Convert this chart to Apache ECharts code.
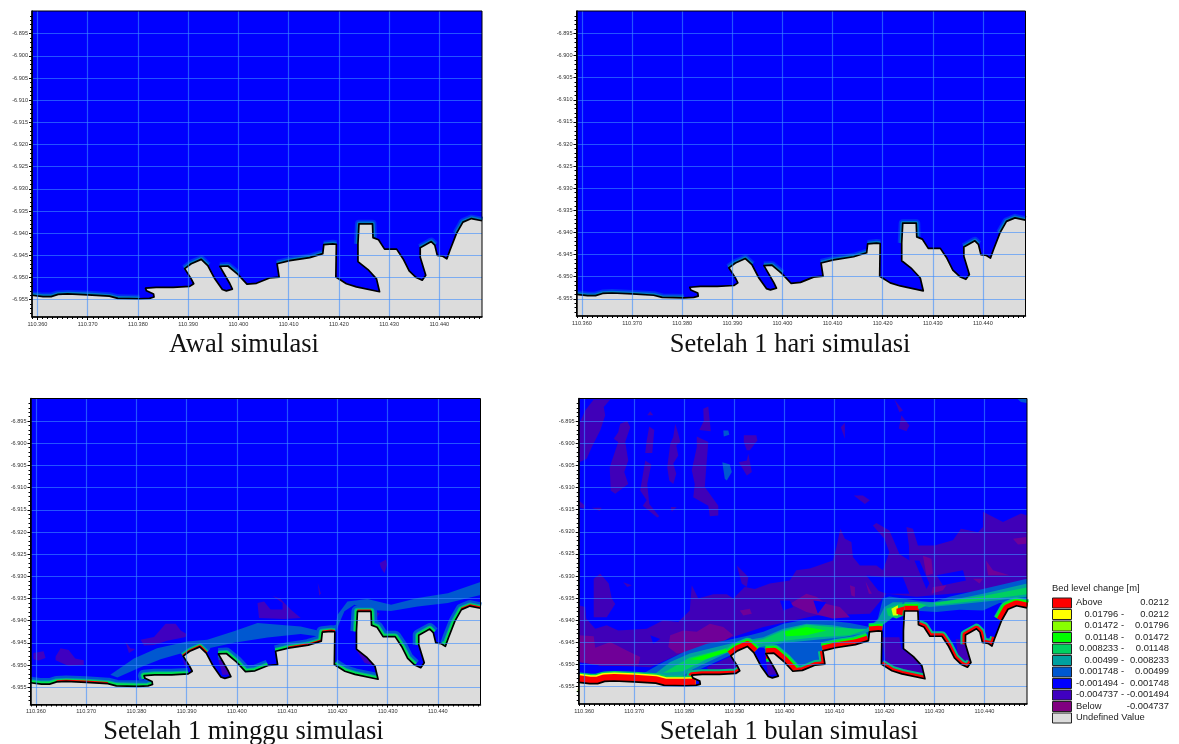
<!DOCTYPE html>
<html><head><meta charset="utf-8">
<style>html,body{margin:0;padding:0;background:#fff}#c{width:1179px;height:744px;filter:blur(0.4px)}</style>
<script src="https://cdn.jsdelivr.net/npm/echarts@6/dist/echarts.min.js"></script>
</head><body><div id="c"></div>
<script>
const lonMin=110.3589, lonMax=110.4485, latMin=-6.9589, latMax=-6.8899;
const lonTicks=[110.36,110.37,110.38,110.39,110.40,110.41,110.42,110.43,110.44];
const latTicks=[-6.955,-6.95,-6.945,-6.94,-6.935,-6.93,-6.925,-6.92,-6.915,-6.91,-6.905,-6.9,-6.895];
const panelTitles=['Awal simulasi','Setelah 1 hari simulasi','Setelah 1 minggu simulasi','Setelah 1 bulan simulasi'];
const legendTitle='Bed level change [m]';
const legendLow=['Above','0.01796 -','0.01472 -','0.01148 -','0.008233 -','0.00499 -','0.001748 -','-0.001494 -','-0.004737 -','Below','Undefined Value'];
const legendHigh=['0.0212','0.0212','0.01796','0.01472','0.01148','0.008233','0.00499','0.001748','-0.001494','-0.004737',''];
const legendColors=['#ff0000','#ffff00','#88ff00','#00ff00','#00d060','#00a0a0','#0058d0','#0000ff','#4000c0','#800080','#dcdcdc'];

const coastline=[[110.3589,-6.9540],[110.3611,-6.9543],[110.3627,-6.9543],[110.3641,-6.9538],[110.3660,-6.9537],[110.3700,-6.9539],[110.3743,-6.9542],[110.3760,-6.9547],[110.3803,-6.9548],[110.3823,-6.9547],[110.3832,-6.9544],[110.3831,-6.9537],[110.3817,-6.9530],[110.3815,-6.9524],[110.3836,-6.9522],[110.3870,-6.9522],[110.3903,-6.9520],[110.3911,-6.9514],[110.3906,-6.9503],[110.3893,-6.9480],[110.3906,-6.9469],[110.3926,-6.9459],[110.3939,-6.9473],[110.3953,-6.9503],[110.3968,-6.9527],[110.3976,-6.9530],[110.3988,-6.9526],[110.3983,-6.9514],[110.3963,-6.9475],[110.3979,-6.9474],[110.3999,-6.9493],[110.4017,-6.9515],[110.4036,-6.9513],[110.4062,-6.9501],[110.4081,-6.9499],[110.4077,-6.9469],[110.4102,-6.9462],[110.4142,-6.9455],[110.4168,-6.9446],[110.4170,-6.9426],[110.4188,-6.9424],[110.4195,-6.9425],[110.4194,-6.9499],[110.4215,-6.9514],[110.4235,-6.9521],[110.4281,-6.9532],[110.4275,-6.9503],[110.4258,-6.9482],[110.4238,-6.9464],[110.4238,-6.9424],[110.4240,-6.9379],[110.4267,-6.9379],[110.4268,-6.9410],[110.4279,-6.9415],[110.4291,-6.9436],[110.4315,-6.9436],[110.4328,-6.9458],[110.4340,-6.9485],[110.4354,-6.9500],[110.4366,-6.9506],[110.4373,-6.9495],[110.4362,-6.9454],[110.4362,-6.9433],[110.4384,-6.9419],[110.4391,-6.9427],[110.4396,-6.9450],[110.4407,-6.9452],[110.4415,-6.9458],[110.4421,-6.9439],[110.4434,-6.9401],[110.4447,-6.9375],[110.4464,-6.9367],[110.4485,-6.9372]];
const seaBox=[[[lonMin,latMin],[lonMax,latMin],[lonMax,latMax],[lonMin,latMax]]];
const landCorners=[[lonMax,latMin],[lonMin,latMin]];

/* one week */
const weekBand=[[[110.3748,-6.9522],[110.3795,-6.9485],[110.3841,-6.9462],[110.3901,-6.9447],[110.3941,-6.9443],[110.3994,-6.9424],[110.4041,-6.9405],[110.4127,-6.9413],[110.4167,-6.9424],[110.4197,-6.9409],[110.4200,-6.9387],[110.4220,-6.9357],[110.4260,-6.9351],[110.4307,-6.9364],[110.4360,-6.9349],[110.4420,-6.9338],[110.4485,-6.9313],[110.4485,-6.9342],[110.4420,-6.9360],[110.4360,-6.9368],[110.4307,-6.9378],[110.4264,-6.9376],[110.4234,-6.9364],[110.4214,-6.9379],[110.4204,-6.9405],[110.4197,-6.9426],[110.4167,-6.9436],[110.4127,-6.9430],[110.4061,-6.9438],[110.3994,-6.9450],[110.3928,-6.9466],[110.3888,-6.9474],[110.3848,-6.9487],[110.3808,-6.9505],[110.3762,-6.9528]]];
const weekIndigo=[
[[110.3808,-6.9443],[110.3835,-6.9437],[110.3858,-6.9407],[110.3878,-6.9407],[110.3888,-6.9422],[110.3900,-6.9430],[110.3898,-6.9437],[110.3861,-6.9445],[110.3835,-6.9455],[110.3815,-6.9456]],
[[110.3639,-6.9481],[110.3649,-6.9462],[110.3665,-6.9466],[110.3678,-6.9485],[110.3695,-6.9489],[110.3695,-6.9500],[110.3665,-6.9502],[110.3639,-6.9489]],
[[110.3595,-6.9473],[110.3615,-6.9469],[110.3619,-6.9484],[110.3605,-6.9490],[110.3595,-6.9487]],
[[110.4041,-6.9360],[110.4054,-6.9357],[110.4067,-6.9375],[110.4091,-6.9375],[110.4091,-6.9360],[110.4071,-6.9344],[110.4087,-6.9351],[110.4107,-6.9375],[110.4127,-6.9394],[110.4094,-6.9396],[110.4044,-6.9394]],
[[110.3778,-6.9447],[110.3788,-6.9462],[110.3798,-6.9464],[110.3785,-6.9473]],
[[110.4161,-6.9315],[110.4167,-6.9338],[110.4164,-6.9344]],
[[110.4284,-6.9270],[110.4297,-6.9262],[110.4299,-6.9274],[110.4294,-6.9293],[110.4287,-6.9281]],
[[110.4272,-6.9379],[110.4284,-6.9383],[110.4277,-6.9395]],
[[110.3961,-6.9480],[110.3978,-6.9503],[110.3988,-6.9522],[110.3971,-6.9522]],
[[110.4237,-6.9465],[110.4257,-6.9473],[110.4274,-6.9488],[110.4277,-6.9503],[110.4254,-6.9495]],
[[110.3891,-6.9484],[110.3901,-6.9500],[110.3898,-6.9506]]
];

/* one month */
const monthIndigo=[
[[110.3589,-6.9366],[110.3602,-6.9370],[110.3604,-6.9396],[110.3622,-6.9419],[110.3645,-6.9411],[110.3668,-6.9423],[110.3725,-6.9419],[110.3758,-6.9400],[110.3788,-6.9404],[110.3811,-6.9378],[110.3815,-6.9321],[110.3828,-6.9351],[110.3858,-6.9341],[110.3885,-6.9341],[110.3898,-6.9351],[110.3921,-6.9325],[110.3941,-6.9329],[110.3971,-6.9317],[110.4011,-6.9310],[110.4024,-6.9287],[110.4051,-6.9283],[110.4097,-6.9265],[110.4104,-6.9235],[110.4112,-6.9193],[110.4121,-6.9216],[110.4134,-6.9223],[110.4137,-6.9257],[110.4151,-6.9276],[110.4184,-6.9276],[110.4197,-6.9287],[110.4210,-6.9246],[110.4200,-6.9216],[110.4177,-6.9186],[110.4184,-6.9180],[110.4210,-6.9197],[110.4230,-6.9250],[110.4250,-6.9265],[110.4249,-6.9231],[110.4244,-6.9189],[110.4257,-6.9193],[110.4267,-6.9231],[110.4300,-6.9231],[110.4337,-6.9219],[110.4353,-6.9193],[110.4387,-6.9201],[110.4397,-6.9189],[110.4397,-6.9155],[110.4437,-6.9178],[110.4473,-6.9159],[110.4485,-6.9163],[110.4485,-6.9325],[110.4264,-6.9347],[110.4204,-6.9340],[110.4171,-6.9385],[110.4064,-6.9389],[110.3958,-6.9415],[110.3885,-6.9442],[110.3798,-6.9472],[110.3732,-6.9506],[110.3692,-6.9504],[110.3632,-6.9502],[110.3589,-6.9494]],
[[110.3905,-6.9276],[110.3928,-6.9302],[110.3925,-6.9325],[110.3915,-6.9317]],
[[110.3619,-6.9306],[110.3632,-6.9295],[110.3649,-6.9317],[110.3655,-6.9351],[110.3662,-6.9363],[110.3645,-6.9393],[110.3619,-6.9393],[110.3619,-6.9347]],
[[110.3678,-6.9314],[110.3695,-6.9321],[110.3686,-6.9325]],
[[110.3589,-6.8979],[110.3590,-6.9043],[110.3605,-6.9035],[110.3615,-6.9009],[110.3632,-6.8971],[110.3642,-6.8937],[110.3639,-6.8918],[110.3652,-6.8901],[110.3619,-6.8901],[110.3602,-6.8926],[110.3590,-6.8956]],
[[110.3668,-6.8975],[110.3659,-6.8990],[110.3668,-6.8997],[110.3651,-6.9054],[110.3653,-6.9107],[110.3662,-6.9114],[110.3688,-6.9092],[110.3680,-6.9065],[110.3688,-6.9039],[110.3682,-6.8997],[110.3692,-6.8964],[110.3686,-6.8950],[110.3672,-6.8956]],
[[110.3730,-6.8962],[110.3740,-6.8970],[110.3736,-6.9022],[110.3722,-6.9022],[110.3725,-6.8994]],
[[110.3722,-6.9039],[110.3734,-6.9048],[110.3726,-6.9092],[110.3730,-6.9137],[110.3750,-6.9165],[110.3746,-6.9168],[110.3717,-6.9141],[110.3725,-6.9129],[110.3712,-6.9107]],
[[110.3782,-6.8956],[110.3788,-6.8979],[110.3792,-6.8997],[110.3784,-6.9005],[110.3788,-6.9028],[110.3778,-6.9046],[110.3784,-6.9069],[110.3778,-6.9092],[110.3770,-6.9084],[110.3766,-6.9054],[110.3772,-6.9001],[110.3778,-6.8986]],
[[110.3838,-6.8922],[110.3848,-6.8917],[110.3853,-6.8973],[110.3830,-6.8970],[110.3839,-6.8950]],
[[110.3825,-6.8985],[110.3848,-6.8997],[110.3845,-6.9039],[110.3841,-6.9099],[110.3868,-6.9141],[110.3868,-6.9163],[110.3851,-6.9165],[110.3848,-6.9141],[110.3818,-6.9122],[110.3821,-6.9092],[110.3815,-6.9061],[110.3825,-6.9009]],
[[110.3919,-6.8982],[110.3944,-6.8982],[110.3946,-6.8994],[110.3931,-6.9016],[110.3925,-6.9016],[110.3919,-6.8997]],
[[110.3928,-6.9024],[110.3935,-6.9065],[110.3925,-6.9073],[110.3909,-6.9043],[110.3925,-6.9039]],
[[110.3726,-6.8937],[110.3732,-6.8928],[110.3738,-6.8937]],
[[110.4220,-6.8901],[110.4237,-6.8926],[110.4230,-6.8930]],
[[110.4234,-6.8937],[110.4250,-6.8960],[110.4244,-6.8973],[110.4229,-6.8967]],
[[110.4113,-6.8964],[110.4121,-6.8954],[110.4121,-6.8990]],
[[110.4139,-6.9118],[110.4157,-6.9118],[110.4171,-6.9129],[110.4161,-6.9137]],
[[110.3589,-6.9129],[110.3602,-6.9141],[110.3599,-6.9148],[110.3589,-6.9144]],
[[110.3615,-6.9146],[110.3635,-6.9146],[110.3631,-6.9153]],
[[110.3773,-6.9144],[110.3785,-6.9144],[110.3775,-6.9155]]
];
const monthDeep=[
[[110.3589,-6.9434],[110.3619,-6.9436],[110.3622,-6.9462],[110.3652,-6.9449],[110.3685,-6.9468],[110.3712,-6.9483],[110.3708,-6.9502],[110.3632,-6.9502],[110.3589,-6.9494]],
[[110.3772,-6.9434],[110.3798,-6.9423],[110.3825,-6.9426],[110.3851,-6.9408],[110.3878,-6.9415],[110.3898,-6.9434],[110.3865,-6.9457],[110.3818,-6.9472],[110.3785,-6.9475],[110.3768,-6.9460]],
[[110.4011,-6.9363],[110.4044,-6.9340],[110.4064,-6.9347],[110.4084,-6.9363],[110.4111,-6.9370],[110.4131,-6.9393],[110.4097,-6.9396],[110.4044,-6.9381]],
[[110.4131,-6.9321],[110.4141,-6.9325],[110.4141,-6.9347],[110.4134,-6.9344]],
[[110.3911,-6.9378],[110.3931,-6.9374],[110.3935,-6.9385],[110.3918,-6.9389]],
[[110.4277,-6.9254],[110.4294,-6.9261],[110.4297,-6.9295],[110.4284,-6.9299]],
[[110.4403,-6.9265],[110.4417,-6.9287],[110.4450,-6.9298],[110.4407,-6.9298]],
[[110.4457,-6.9216],[110.4483,-6.9212],[110.4483,-6.9227],[110.4467,-6.9229]],
[[110.4297,-6.9325],[110.4324,-6.9321],[110.4317,-6.9332],[110.4294,-6.9340]],
[[110.4377,-6.9306],[110.4397,-6.9306],[110.4390,-6.9317]],
[[110.4162,-6.9312],[110.4169,-6.9340],[110.4175,-6.9340]]
];
const monthSeaHoles=[
[[110.4164,-6.9299],[110.4197,-6.9303],[110.4237,-6.9303],[110.4250,-6.9340],[110.4204,-6.9340],[110.4188,-6.9333]],
[[110.4260,-6.9265],[110.4270,-6.9265],[110.4290,-6.9317],[110.4284,-6.9329],[110.4274,-6.9302]],
[[110.3991,-6.9355],[110.4011,-6.9355],[110.4018,-6.9370],[110.3998,-6.9378]],
[[110.4058,-6.9355],[110.4084,-6.9359],[110.4067,-6.9385]],
[[110.3732,-6.9434],[110.3752,-6.9442],[110.3738,-6.9453]],
[[110.4304,-6.9298],[110.4357,-6.9287],[110.4363,-6.9310],[110.4317,-6.9321]]
];
const monthSpots=[
[[110.3878,-6.8971],[110.3888,-6.8971],[110.3890,-6.8981],[110.3879,-6.8985]],
[[110.3876,-6.9043],[110.3891,-6.9048],[110.3895,-6.9065],[110.3885,-6.9084],[110.3881,-6.9080]],
[[110.4466,-6.8900],[110.4485,-6.8900],[110.4485,-6.8909],[110.4473,-6.8907]]
];
const monthBand=[[[110.3712,-6.9524],[110.3752,-6.9498],[110.3798,-6.9472],[110.3845,-6.9453],[110.3885,-6.9445],[110.3931,-6.9434],[110.3958,-6.9426],[110.3998,-6.9408],[110.4038,-6.9399],[110.4084,-6.9400],[110.4131,-6.9406],[110.4171,-6.9415],[110.4187,-6.9396],[110.4197,-6.9351],[110.4210,-6.9346],[110.4264,-6.9355],[110.4297,-6.9359],[110.4330,-6.9347],[110.4397,-6.9329],[110.4485,-6.9306],[110.4485,-6.9359],[110.4430,-6.9361],[110.4397,-6.9378],[110.4350,-6.9376],[110.4304,-6.9381],[110.4257,-6.9378],[110.4237,-6.9366],[110.4204,-6.9400],[110.4171,-6.9438],[110.4077,-6.9468],[110.4077,-6.9498],[110.4018,-6.9513],[110.3958,-6.9462],[110.3925,-6.9462],[110.3885,-6.9483],[110.3811,-6.9521],[110.3825,-6.9540],[110.3758,-6.9547],[110.3732,-6.9540]]];
const monthTeal=[[[110.3738,-6.9524],[110.3772,-6.9494],[110.3811,-6.9475],[110.3858,-6.9462],[110.3905,-6.9449],[110.3958,-6.9438],[110.3998,-6.9419],[110.4044,-6.9408],[110.4097,-6.9411],[110.4137,-6.9419],[110.4164,-6.9419],[110.4187,-6.9400],[110.4200,-6.9370],[110.4217,-6.9359],[110.4257,-6.9359],[110.4297,-6.9359],[110.4330,-6.9355],[110.4397,-6.9340],[110.4485,-6.9317],[110.4485,-6.9347],[110.4423,-6.9355],[110.4330,-6.9366],[110.4290,-6.9370],[110.4264,-6.9366],[110.4237,-6.9359],[110.4217,-6.9393],[110.4187,-6.9419],[110.4157,-6.9430],[110.4117,-6.9438],[110.4064,-6.9444],[110.3998,-6.9451],[110.3958,-6.9459],[110.3885,-6.9474],[110.3818,-6.9510],[110.3798,-6.9525],[110.3758,-6.9540]]];
const monthGreen=[
[[110.3758,-6.9519],[110.3811,-6.9484],[110.3865,-6.9469],[110.3905,-6.9456],[110.3958,-6.9442],[110.3998,-6.9423],[110.4044,-6.9410],[110.4104,-6.9416],[110.4164,-6.9421],[110.4131,-6.9434],[110.4064,-6.9438],[110.3998,-6.9446],[110.3944,-6.9454],[110.3891,-6.9468],[110.3845,-6.9488],[110.3798,-6.9515]],
[[110.4297,-6.9361],[110.4397,-6.9345],[110.4485,-6.9326],[110.4485,-6.9341],[110.4397,-6.9354],[110.4304,-6.9366]],
[[110.4204,-6.9374],[110.4230,-6.9363],[110.4264,-6.9359],[110.4284,-6.9366],[110.4264,-6.9378],[110.4224,-6.9396],[110.4207,-6.9389]]
];
const monthBright=[
[[110.3811,-6.9488],[110.3885,-6.9464],[110.3905,-6.9460],[110.3885,-6.9472],[110.3835,-6.9490]],
[[110.3998,-6.9426],[110.4044,-6.9415],[110.4084,-6.9423],[110.4044,-6.9434],[110.4004,-6.9436]]
];
const monthYellow=[[[110.4214,-6.9374],[110.4227,-6.9366],[110.4227,-6.9389],[110.4217,-6.9389]]];
const monthRed=[[[110.4224,-6.9374],[110.4247,-6.9366],[110.4264,-6.9366],[110.4270,-6.9378],[110.4237,-6.9378],[110.4236,-6.9389],[110.4224,-6.9385]]];
const monthBays=[
[[110.4194,-6.9438],[110.4230,-6.9438],[110.4234,-6.9464],[110.4267,-6.9490],[110.4280,-6.9528],[110.4204,-6.9502]],
[[110.3961,-6.9479],[110.3974,-6.9479],[110.3988,-6.9521],[110.3968,-6.9524]],
[[110.4343,-6.9442],[110.4363,-6.9445],[110.4371,-6.9498],[110.4347,-6.9483]],
[[110.3891,-6.9483],[110.3911,-6.9509],[110.3851,-6.9517],[110.3845,-6.9506]]
];

/* stretches of the shore (first and last index into coastline) */
const calmRuns=[[0,8],[19,22],[28,30],[35,38],[39,41],[49,52],[62,64],[69,72]];
const weekRuns=[[0,10],[12,16],[19,22],[28,33],[35,41],[42,45],[49,58],[61,64],[66,72]];
const weekHotRuns=[[3,6],[19,22],[36,38],[39,41],[50,51],[70,72]];
const monthThickRuns=[[0,9]];
const monthMidRuns=[[19,22],[28,31],[35,38],[39,41],[50,51],[69,72]];
const monthThinRuns=[[12,17],[31,35],[42,45],[52,60],[61,65],[65,68]];

const gridBoxes=[[32,11,450,306],[576.5,11,449,305],[30.5,398.5,450,306],[578.7,398.5,448.3,305.5]];
const titleSpots=[[244,331.5],[790,331.5],[243.5,719],[789,719]];

function polygons(list,color){return {kind:'poly',list,color};}
function strokes(runs,width,color){return {kind:'line',runs,width,color};}
const panelLayers=[
 [strokes(calmRuns,8,'#0030f0'),strokes(calmRuns,4.5,'#0078c0')],
 [strokes(calmRuns,8,'#0030f0'),strokes(calmRuns,4.5,'#0078c0')],
 [polygons(weekIndigo,'#4000c0'),polygons(weekBand,'#0058d0'),
  strokes(weekRuns,12,'#0058d0'),strokes(weekRuns,7,'#00a0a0'),strokes(weekRuns,5,'#00e050'),strokes(weekHotRuns,3.5,'#ff0000')],
 [polygons(monthIndigo,'#4000b8'),polygons(monthDeep,'#700098'),polygons(monthSeaHoles,'#0000ff'),polygons(monthSpots,'#0058d0'),
  polygons(monthBand,'#0058d0'),polygons(monthTeal,'#00a0a0'),polygons(monthGreen,'#00d060'),polygons(monthBright,'#00ff00'),polygons(monthBays,'#4000b8'),polygons(monthYellow,'#e0ff00'),polygons(monthRed,'#ff0000'),
  strokes(monthThinRuns,10,'#00c080'),strokes(monthThinRuns,6,'#ff0000'),
  strokes(monthMidRuns,17,'#00c080'),strokes(monthMidRuns,14,'#00ff00'),strokes(monthMidRuns,10.5,'#ff0000'),
  strokes(monthThickRuns,20,'#00d060'),strokes(monthThickRuns,17,'#ffff00'),strokes(monthThickRuns,14,'#ff0000')]
];

const lonMinor=[],latMinor=[];
for(let i=3589;i<=4485;i++){ if((i%10)===0 && i%100!==0) lonMinor.push(110+i/10000); }
for(let i=-6958;i<=-6890;i++){ if(i%5!==0) latMinor.push(i/1000); }

const grid=[],xAxis=[],yAxis=[],series=[],title=[];
let zc=1;
function polySeries(p,layer){
  return {type:'custom',coordinateSystem:'cartesian2d',xAxisIndex:p*2,yAxisIndex:p*2,clip:true,silent:true,z:zc++,
    data:layer.list.map((_,i)=>[i]),
    renderItem(params,api){
      return {type:'polygon',shape:{points:layer.list[params.dataIndex].map(q=>api.coord(q))},style:{fill:layer.color}};
    }};
}
function lineSeries(p,data,width,color){
  return {type:'line',xAxisIndex:p*2,yAxisIndex:p*2,data,clip:true,silent:true,z:zc++,showSymbol:false,symbol:'none',
    lineStyle:{width,color,join:'round',cap:'butt'}};
}
gridBoxes.forEach((b,p)=>{
  grid.push({left:b[0],top:b[1],width:b[2],height:b[3],show:true,borderColor:'#000',borderWidth:1,backgroundColor:'transparent',z:1001});
  const lab={show:true,fontSize:5.6,color:'#333',fontFamily:'"Liberation Sans"'};
  const gridLine={show:true,lineStyle:{color:'rgba(60,140,255,0.6)',width:1.2}};
  xAxis.push({type:'value',gridIndex:p,min:lonMin,max:lonMax,position:'bottom',z:1000,
    axisLine:{show:true,onZero:false,lineStyle:{color:'#000',width:1.5}},
    axisTick:{show:true,length:3,customValues:lonTicks,lineStyle:{color:'#000',width:1}},
    axisLabel:Object.assign({},lab,{margin:4,customValues:lonTicks,formatter:v=>v.toFixed(3)}),
    splitLine:gridLine});
  xAxis.push({type:'value',gridIndex:p,min:lonMin,max:lonMax,position:'bottom',z:1000,
    axisLine:{show:false,onZero:false},axisTick:{show:true,length:2,customValues:lonMinor,lineStyle:{color:'#000',width:1}},
    axisLabel:{show:false},splitLine:{show:false}});
  yAxis.push({type:'value',gridIndex:p,min:latMin,max:latMax,position:'left',z:1000,
    axisLine:{show:true,onZero:false,lineStyle:{color:'#000',width:1.5}},
    axisTick:{show:true,length:3,customValues:latTicks,lineStyle:{color:'#000',width:1}},
    axisLabel:Object.assign({},lab,{margin:4,customValues:latTicks,formatter:v=>v.toFixed(3)}),
    splitLine:gridLine});
  yAxis.push({type:'value',gridIndex:p,min:latMin,max:latMax,position:'left',z:1000,
    axisLine:{show:false,onZero:false},axisTick:{show:true,length:2,customValues:latMinor,lineStyle:{color:'#000',width:1}},
    axisLabel:{show:false},splitLine:{show:false}});

  series.push(polySeries(p,polygons(seaBox,'#0000ff')));
  panelLayers[p].forEach(layer=>{
    if(layer.kind==='poly') series.push(polySeries(p,layer));
    else layer.runs.forEach(r=>series.push(lineSeries(p,coastline.slice(r[0],r[1]+1),layer.width,layer.color)));
  });
  series.push(polySeries(p,polygons([coastline.concat(landCorners)],'#dcdcdc')));
  series.push(lineSeries(p,coastline,1.7,'#000'));

  title.push({text:panelTitles[p],left:titleSpots[p][0],top:titleSpots[p][1],textAlign:'center',padding:0,
    textStyle:{fontFamily:'"Liberation Serif"',fontSize:26.5,fontWeight:'normal',color:'#111'}});
});

const legendFont='9.4px "Liberation Sans"';
const graphic=[{type:'text',left:1052,top:584,style:{text:legendTitle,font:legendFont,fill:'#222'}}];
legendColors.forEach((c,i)=>{
  const y=597.5+i*11.5;
  graphic.push({type:'rect',left:1052,top:y,shape:{width:19,height:10},style:{fill:c,stroke:'#222',lineWidth:1}});
  const wordy=(i===0||i>=9);
  graphic.push({type:'text',x:wordy?1076:1124,y:y+5,style:{text:legendLow[i],font:legendFont,fill:'#222',align:wordy?'left':'right',verticalAlign:'middle'}});
  graphic.push({type:'text',x:1169,y:y+5,style:{text:legendHigh[i],font:legendFont,fill:'#222',align:'right',verticalAlign:'middle'}});
});

const chart=echarts.init(document.getElementById('c'),null,{renderer:'canvas'});
chart.setOption({animation:false,backgroundColor:'#fff',title,grid,xAxis,yAxis,series,graphic,tooltip:{show:false}});
</script></body></html>
